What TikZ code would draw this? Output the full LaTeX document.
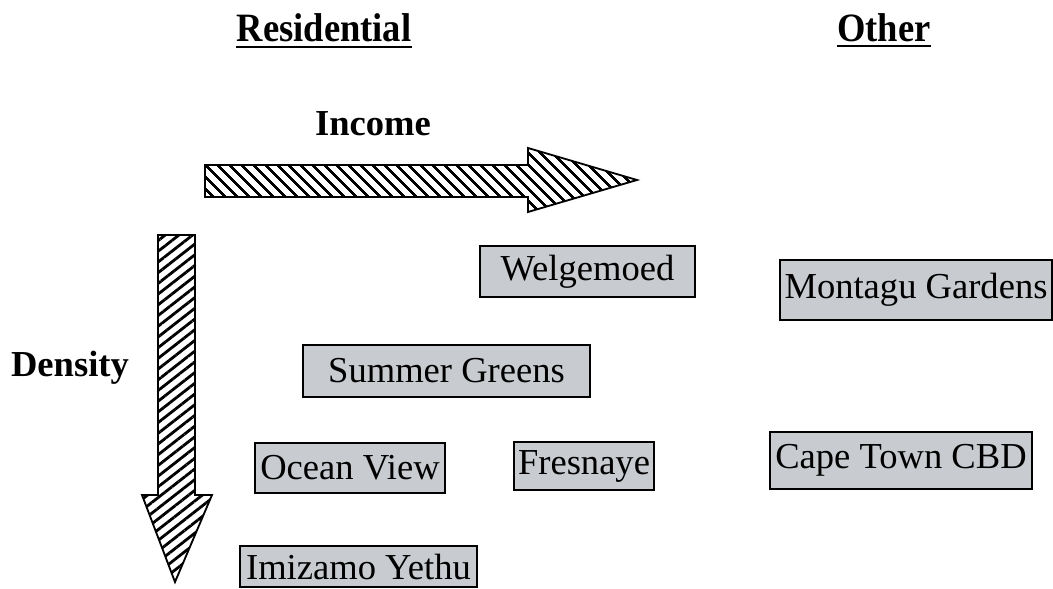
\documentclass[tikz,border=0pt]{standalone}
\usepackage{fontspec}
\setmainfont{Liberation Serif}
\usepackage{xcolor}
\usetikzlibrary{patterns.meta}

\definecolor{areagray}{RGB}{200,203,208}
\tikzset{
    area/.style={draw, line width=1.3pt, fill=areagray, inner sep=0pt,
        font=\fontsize{26}{30}\selectfont},
    heading/.style={inner sep=0pt, font=\fontsize{26}{30}\selectfont\bfseries},
    hatcharrow/.style={draw, line width=1.3pt, line join=miter},
}

\begin{document}
\begin{tikzpicture}[x=0.025cm, y=-0.025cm]
    \useasboundingbox (0,0) rectangle (1053,589);

    % Column headings, underlined
    \node[heading, anchor=base, yscale=1.1] (res) at (324,42) {Residential};
    \node[heading, anchor=base, yscale=1.1] (oth) at (884,42) {Other};
    \draw[line width=1.6pt] ([yshift=-0.13cm]res.base west) -- ([yshift=-0.13cm]res.base east);
    \draw[line width=1.6pt] ([yshift=-0.1cm]oth.base west) -- ([yshift=-0.1cm]oth.base east);

    % Axis labels
    \node[heading, anchor=base] (inc) at (373,136) {Income};
    \node[heading, anchor=base] (den) at (70,377) {Density};

    % Hatched arrows
    \draw[hatcharrow, pattern={Lines[angle=-45,distance=6.5pt,line width=2pt]}]
        (205,165) -- (528,165) -- (528,148) -- (637,180) -- (528,212) -- (528,197) -- (205,197) -- cycle;
    \draw[hatcharrow, pattern={Lines[angle=38,distance=6pt,line width=2pt]}]
        (158,235) -- (195,235) -- (195,495) -- (212,495) -- (175,582) -- (142,495) -- (158,495) -- cycle;

    % Area boxes
    \foreach \name/\x/\y/\w/\h/\txt in {
        wel/587.5/271.5/215/51/Welgemoed,
        sum/446.5/371/287/52/Summer Greens,
        mon/916/290/272/60/Montagu Gardens,
        cbd/901/460.5/262/57/Cape Town CBD,
        ocn/350/468/190/50/Ocean View,
        fre/584/466/140/48/Fresnaye,
        imz/358.5/566.5/237/41/Imizamo Yethu} {
        \node[area, minimum width=\w*0.025cm, minimum height=\h*0.025cm] (\name) at (\x,\y) {\txt};
    }
\end{tikzpicture}
\end{document}
